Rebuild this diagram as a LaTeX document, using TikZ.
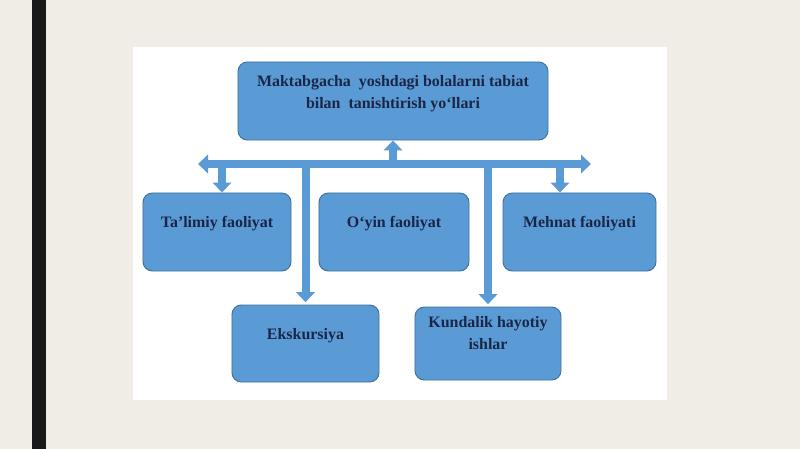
\documentclass[tikz,border=0pt]{standalone}
\usepackage{fontspec}
\setmainfont{Liberation Serif}
\usetikzlibrary{arrows.meta}

\definecolor{pagebg}{HTML}{EFEDE6}
\definecolor{boxblue}{HTML}{5B9BD5}
\definecolor{boxedge}{HTML}{41719C}
\definecolor{txtnavy}{HTML}{1A2648}

\tikzset{
  wayBox/.style={draw=boxedge, fill=boxblue, line width=0.8pt, rounded corners=8pt, inner sep=0pt},
  wayText/.style={text=txtnavy, font=\fontsize{13.6}{18.7}\selectfont\bfseries, align=center},
  wayArrow/.style={boxblue, line width=0.24cm, -{Triangle[length=0.3cm,width=0.55cm]}},
  wayBar/.style={boxblue, line width=0.24cm, {Triangle[length=0.3cm,width=0.55cm]}-{Triangle[length=0.3cm,width=0.55cm]}}
}

\begin{document}
\begin{tikzpicture}[x=0.03cm,y=-0.03cm]

    % slide background
    \fill[pagebg] (0,0) rectangle (800,449);
    \useasboundingbox (0,0) rectangle (800,449);
    \fill[black!90] (32,0) rectangle (46,449);
    \fill[white] (133,47) rectangle (667,400);

    % boxes
    \node[wayBox, minimum width=9.3cm,  minimum height=2.34cm] (top) at (393,101) {};
    \node[wayBox, minimum width=4.44cm, minimum height=2.34cm] (tal) at (217,232) {};
    \node[wayBox, minimum width=4.5cm,  minimum height=2.34cm] (oyin) at (394,232) {};
    \node[wayBox, minimum width=4.59cm, minimum height=2.34cm] (meh) at (579.5,232) {};
    \node[wayBox, minimum width=4.41cm, minimum height=2.31cm] (eks) at (305.5,343.5) {};
    \node[wayBox, minimum width=4.38cm, minimum height=2.19cm] (kun) at (488,343.5) {};

    % labels
    \node[wayText] (top-t) at (393,94) {Maktabgacha~ yoshdagi bolalarni tabiat\\bilan~ tanishtirish yo‘llari};
    \node[wayText] (tal-t) at (217,224) {Ta’limiy faoliyat};
    \node[wayText] (oyin-t) at (394,224) {O‘yin faoliyat};
    \node[wayText] (meh-t) at (579.5,224) {Mehnat faoliyati};
    \node[wayText] (eks-t) at (305.5,336) {Ekskursiya};
    \node[wayText] (kun-t) at (488,333.5) {Kundalik hayotiy\\ishlar};

    % horizontal bar
    \coordinate (barL) at (198,164);
    \coordinate (barR) at (591,164);
    \draw[wayBar] (barL) -- (barR);

    % arrows
    \draw[wayArrow] (top.south |- barL) -- (top.south);
    \draw[wayArrow] ([xshift=0.15cm]tal.north |- barL) -- ([xshift=0.15cm]tal.north);
    \draw[wayArrow] ([xshift=-0.585cm]meh.north |- barL) -- ([xshift=-0.585cm]meh.north);
    \draw[wayArrow] (eks.north |- barL) -- ([yshift=2pt]eks.north);
    \draw[wayArrow] (kun.north |- barL) -- ([yshift=2pt]kun.north);

\end{tikzpicture}
\end{document}
